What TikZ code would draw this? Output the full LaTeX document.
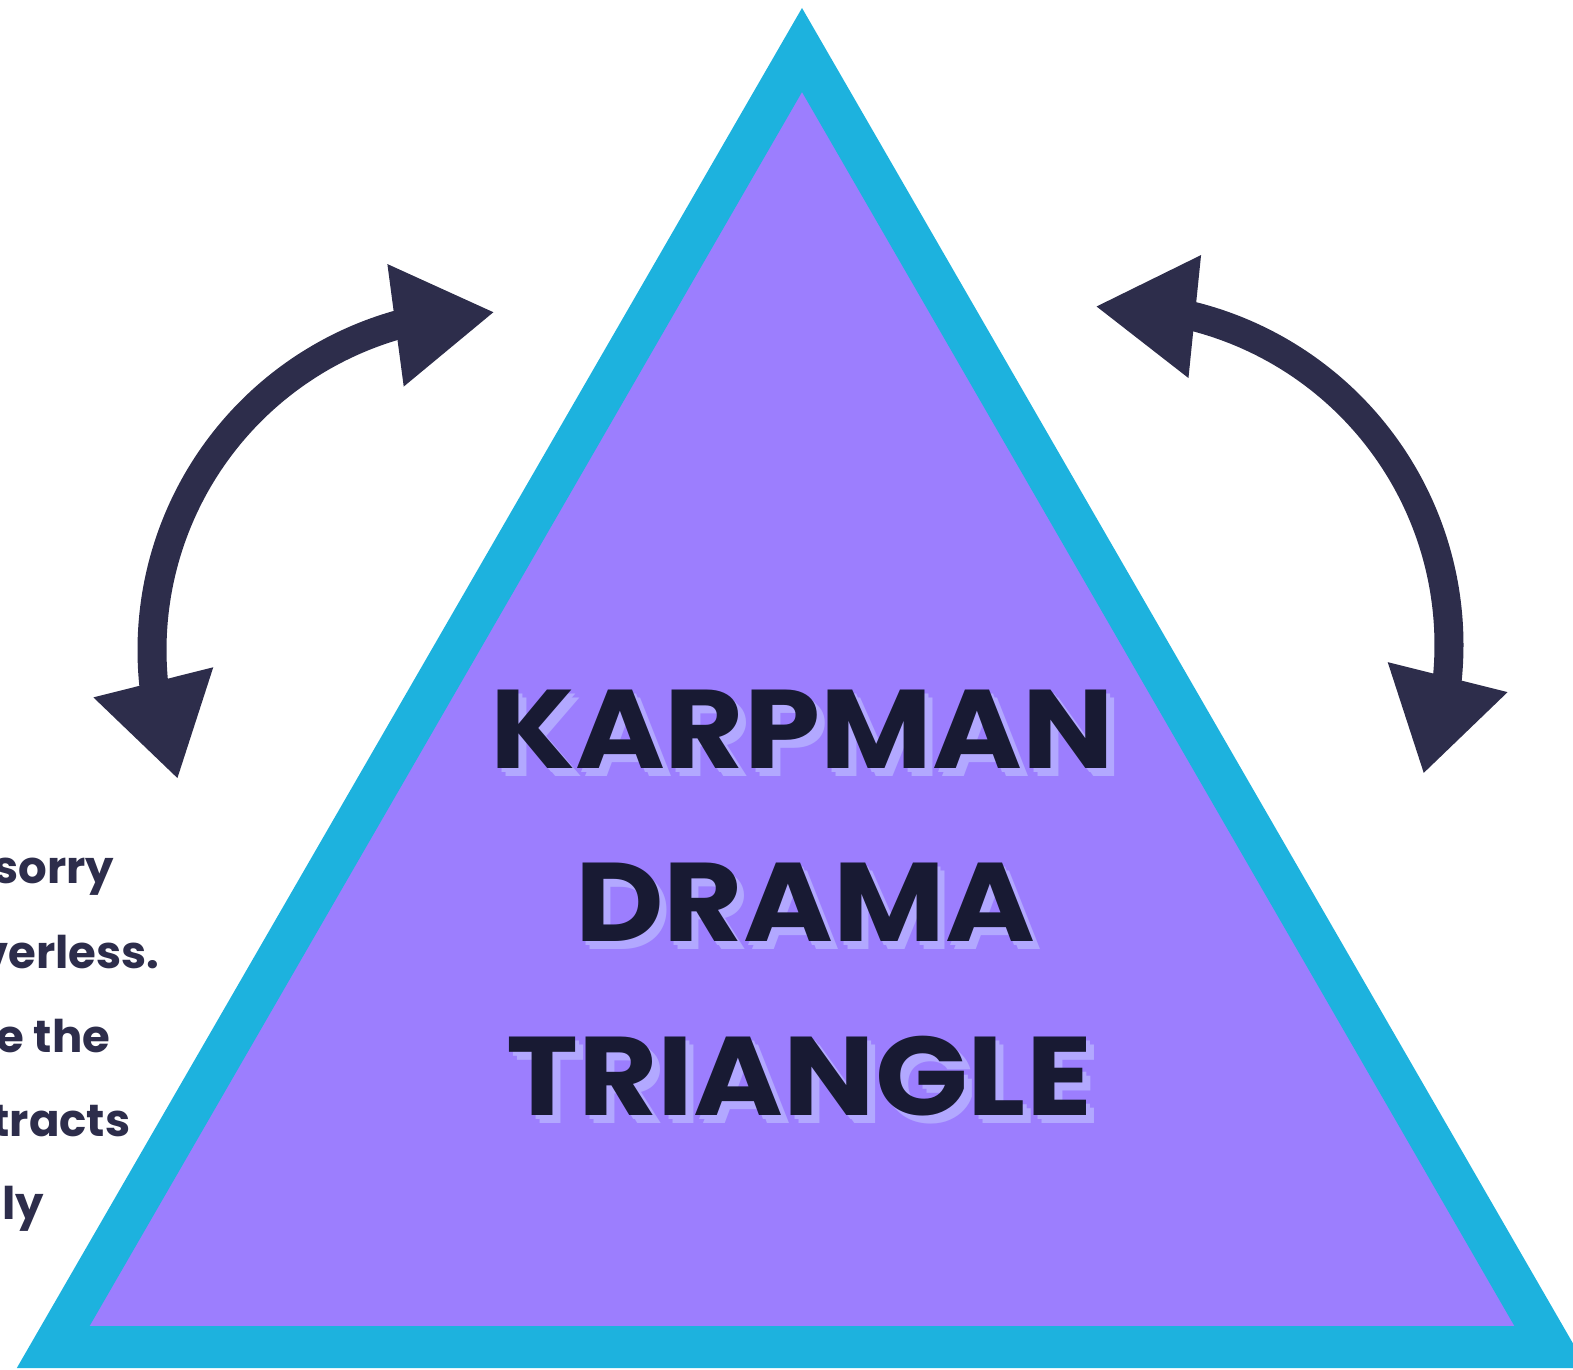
\documentclass[tikz,border=0pt]{standalone}
\usepackage{fontspec}
\setmainfont{Poppins}
\usepackage{xcolor}
\usepackage{graphicx}
\usepackage{tikz}
\usetikzlibrary{arrows.meta, bending, calc}

\definecolor{rimcyan}{HTML}{1DB2DE}
\definecolor{bodypurple}{HTML}{9C7EFE}
\definecolor{shadelilac}{HTML}{B2A8FF}
\definecolor{inkdark}{HTML}{181A33}
\definecolor{arrownavy}{HTML}{2D2D4B}

\newcommand{\stretched}[1]{\scalebox{1.09}[1]{#1}}

\begin{document}
\begin{tikzpicture}[x=0.01cm, y=-0.01cm,
    titleline/.style={anchor=base, inner sep=0pt, text=inkdark, font=\fontsize{31.8}{38}\selectfont\bfseries},
    shadeline/.style={titleline, text=shadelilac},
    sideline/.style={anchor=base east, inner sep=0pt, text=arrownavy, font=\fontsize{12.8}{15}\selectfont\bfseries},
    swaparrow/.style={draw=arrownavy, line width=0.29cm,
        {Triangle[length=1cm, width=1.16cm]}-{Triangle[length=1cm, width=1.16cm]}}]

\useasboundingbox (0,0) rectangle (1573,1369);
\clip (0,0) rectangle (1573,1369);

% the triangle
\coordinate (apex) at (802,50);
\coordinate (right) at (1550.8,1347);
\coordinate (left) at (53.2,1347);
\draw[rimcyan, fill=bodypurple, line width=0.42cm, line join=miter] (apex) -- (right) -- (left) -- cycle;

% side arrows
\coordinate (lhub) at (490,650);
\coordinate (rhub) at (1110,645);
\draw[swaparrow] (lhub) ++(157.5:338) arc[start angle=157.5, end angle=270.8, radius=338];
\draw[swaparrow] (rhub) ++(267.5:339) arc[start angle=267.5, end angle=382.4, radius=339];

% title
\node[shadeline] (karpmanshade2) at (810,776) {\stretched{KARPMAN}};
\node[shadeline] (karpmanshade1) at (806,772) {\stretched{KARPMAN}};
\node[titleline] (karpman) at (802,768) {\stretched{KARPMAN}};
\node[shadeline] (dramashade2) at (812,949) {\stretched{DRAMA}};
\node[shadeline] (dramashade1) at (808,945) {\stretched{DRAMA}};
\node[titleline] (drama) at (805,941) {\stretched{DRAMA}};
\node[shadeline] (triangleshade2) at (807,1123) {\stretched{TRIANGLE}};
\node[shadeline] (triangleshade1) at (803,1119) {\stretched{TRIANGLE}};
\node[titleline] (triangle) at (799,1115) {\stretched{TRIANGLE}};

% cut-off text on the left
\node[sideline] (line1) at (115,883) {sorry};
\node[sideline] (line2) at (160,968) {verless.};
\node[sideline] (line3) at (111,1052) {e the};
\node[sideline] (line4) at (131,1136) {tracts};
\node[sideline] (line5) at (45,1219) {lly};
\end{tikzpicture}
\end{document}
